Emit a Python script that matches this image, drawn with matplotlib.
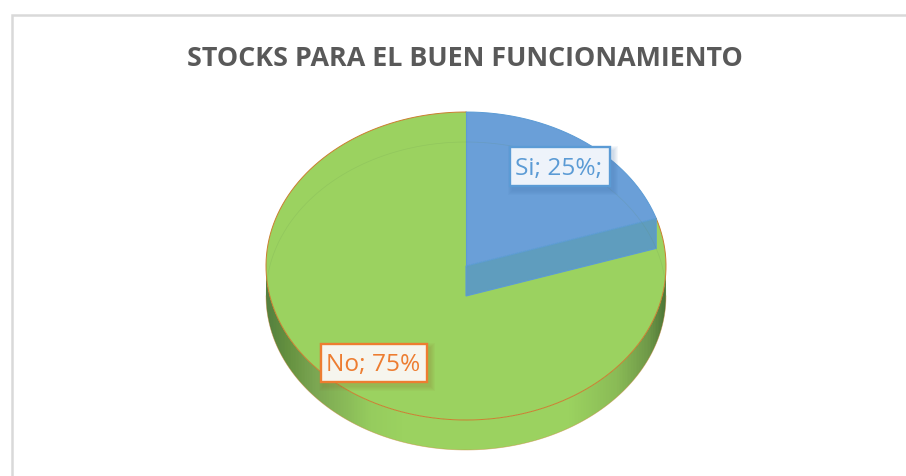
import numpy as np
import matplotlib
matplotlib.use("Agg")
import matplotlib.pyplot as plt
from matplotlib.patches import Rectangle, PathPatch
from matplotlib.path import Path
from matplotlib.colors import LinearSegmentedColormap

title = "STOCKS PARA EL BUEN FUNCIONAMIENTO"
categories = ["Si", "No"]
values = [25, 75]
label_texts = ["Si; 25%;", "No; 75%"]

# view geometry in pixels
CX, CY, RX, RY, DEPTH = 466, 266, 200, 154, 30
VIEW_SQUEEZE = 0.80   # the tilted 3D view shortens the first slice's apparent sweep
BLUE, GREEN, CUT = "#6A9FD8", "#9BD260", "#5F9DBE"
EDGE_B, EDGE_O = "#5B9BD5", "#CB7E30"

fig = plt.figure(figsize=(9.06, 4.76), dpi=100, facecolor="white")
ax = fig.add_axes([0, 0, 1, 1])
ax.set_xlim(0, 906)
ax.set_ylim(476, 0)
ax.axis("off")

# chart frame
ax.plot([12, 12, 906], [476, 14.5, 14.5], color="#D9D9D9", lw=1.8, solid_joinstyle="miter")

ax.text(464.5, 58.5, title, ha="center", va="center", color="#595959",
        fontsize=19.4, fontweight="bold", family="Open Sans")

def pt(t, dy=0):
    return CX + RX * np.cos(t), CY + dy - RY * np.sin(t)

# side wall
t = np.linspace(np.pi, 2 * np.pi, 200)
xt, yt = pt(t)
xb, yb = pt(t, DEPTH)
wall = np.column_stack([np.r_[xt, xb[::-1]], np.r_[yt, yb[::-1]]])
cmap = LinearSegmentedColormap.from_list("wall", [
    (0.00, "#55803F"), (0.05, "#64903F"), (0.12, "#7BA652"), (0.26, "#96CC5E"), (0.34, "#9BD260"),
    (0.76, "#9BD260"), (0.88, "#8ABB56"), (0.96, "#6E9848"), (1.00, "#4F7838")])
im = ax.imshow(np.linspace(0, 1, 400)[None, :], extent=[CX - RX, CX + RX, CY + DEPTH + RY, CY],
               cmap=cmap, aspect="auto", zorder=1)
im.set_clip_path(PathPatch(Path(wall, closed=False), transform=ax.transData))
ax.set_xlim(0, 906)
ax.set_ylim(476, 0)
ax.plot(xb, yb, color=EDGE_O, lw=0.5, alpha=0.5, zorder=2)

# slices, sweep computed from the values
total = sum(values)
start = np.pi / 2
ends = []
for v, col, edge in zip(values, [BLUE, GREEN], [EDGE_B, EDGE_O]):
    sweep = 2 * np.pi * v / total
    s = VIEW_SQUEEZE * sweep if v == values[0] else 2 * np.pi - VIEW_SQUEEZE * 2 * np.pi * values[0] / total
    th = np.linspace(start, start - s, 300)
    x, y = pt(th)
    ax.fill(np.r_[CX, x], np.r_[CY, y], facecolor=col, edgecolor="none", zorder=3)
    ax.plot(x, y, color=edge, lw=0.7, zorder=4)
    start -= s
    ends.append(start)

# cut face of the first slice
ex, ey = pt(ends[0])
cut_x = [CX, ex, ex, CX]
cut_y = [CY, ey, ey + DEPTH, CY + DEPTH]
ax.fill(cut_x, cut_y, facecolor=CUT, edgecolor=EDGE_B, lw=0.8, zorder=5)
ax.plot([CX, CX], [CY - RY, CY], color=EDGE_B, lw=0.8, zorder=5)

# faint back rim seen through the top
t = np.linspace(0, np.pi, 200)
xr, yr = pt(t, DEPTH)
ax.plot(xr, yr, color="#5F8A50", lw=0.5, alpha=0.16, zorder=6)

# data labels
boxes = [(509.5, 146.5, 100, 39.5, "#EEF3FA", EDGE_B, "#3F6FA8"),
         (321, 344, 106, 38, "#F6F5EE", "#ED7D31", "#8A6A30")]
for text, (bx, by, bw, bh, fc, ec, sh) in zip(label_texts, boxes):
    for g in range(10, 0, -2):
        ax.add_patch(Rectangle((bx + 2 - g / 2 + 1, by + 2 - g / 2 + 2), bw + g, bh + g,
                               facecolor=sh, edgecolor="none", alpha=0.05, zorder=7))
    ax.add_patch(Rectangle((bx, by), bw, bh, facecolor=fc, edgecolor=ec, lw=1.7, zorder=8))
    ax.text(bx + bw / 2 - 0.5, by + bh / 2 + 2.5, text, ha="center", va="center", color=ec,
            fontsize=17.6, family="Open Sans", zorder=9)

fig.savefig("out.png", dpi=100, facecolor="white")
